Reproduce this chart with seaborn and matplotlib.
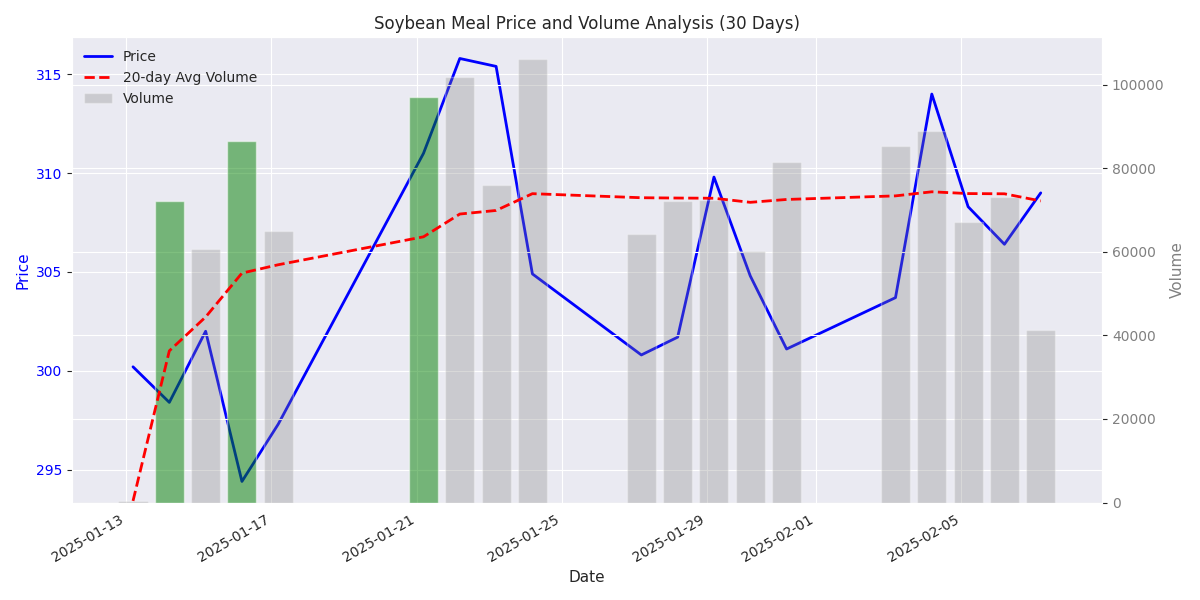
import matplotlib
matplotlib.use('Agg')
import matplotlib.pyplot as plt
import pandas as pd
import seaborn as sns

# Trading days (timestamps carry a time-of-day, hence the small shift from the ticks)
dates = ['2025-01-13', '2025-01-14', '2025-01-15', '2025-01-16', '2025-01-17',
         '2025-01-21', '2025-01-22', '2025-01-23', '2025-01-24',
         '2025-01-27', '2025-01-28', '2025-01-29', '2025-01-30', '2025-01-31',
         '2025-02-03', '2025-02-04', '2025-02-05', '2025-02-06', '2025-02-07']
price = [300.2, 298.4, 302.0, 294.4, 297.3,
         311.0, 315.8, 315.4, 304.9,
         300.8, 301.7, 309.8, 304.8, 301.1,
         303.7, 314.0, 308.3, 306.4, 309.0]
volume = [400, 72200, 60600, 86400, 64900,
          97000, 101700, 75900, 106000,
          64200, 72100, 72300, 60100, 81400,
          85400, 89000, 67100, 73000, 41300]
bar_colors = ['gray', 'green', 'gray', 'green', 'gray',
              'green', 'gray', 'gray', 'gray',
              'gray', 'gray', 'gray', 'gray', 'gray',
              'gray', 'gray', 'gray', 'gray', 'gray']

df = pd.DataFrame({'Price': price, 'Volume': volume})
df.index = pd.to_datetime(dates) + pd.Timedelta(hours=4.5)
df['AvgVol'] = df['Volume'].rolling(20, min_periods=1).mean()

sns.set_style('darkgrid')

fig, ax1 = plt.subplots(figsize=(12, 6), dpi=100)

# price on the left axis
sns.lineplot(x=df.index, y=df['Price'], ax=ax1, color='blue', linewidth=2, label='Price', legend=False)
ax1.set_xlabel('Date', fontsize=11)
ax1.set_ylabel('Price', color='blue', fontsize=11)
ax1.tick_params(axis='y', labelcolor='blue')

# volume + rolling average on the right axis
ax2 = ax1.twinx()
ax2.bar(df.index, df['Volume'], width=0.8, color=bar_colors, alpha=0.3, label='Volume')
for p, c in zip(ax2.patches, bar_colors):
    if c == 'green':
        p.set_alpha(0.5)
sns.lineplot(x=df.index, y=df['AvgVol'], ax=ax2, color='red', linestyle='--', linewidth=2,
             label='20-day Avg Volume', legend=False)
ax2.set_ylabel('Volume', color='gray', fontsize=11)
ax2.tick_params(axis='y', labelcolor='gray')

h1, l1 = ax1.get_legend_handles_labels()
h2, l2 = ax2.get_legend_handles_labels()
ax1.legend(h1 + h2, l1 + l2, loc='upper left', frameon=False)

plt.title('Soybean Meal Price and Volume Analysis (30 Days)')
fig.autofmt_xdate()
plt.tight_layout()
fig.savefig('out.png')
